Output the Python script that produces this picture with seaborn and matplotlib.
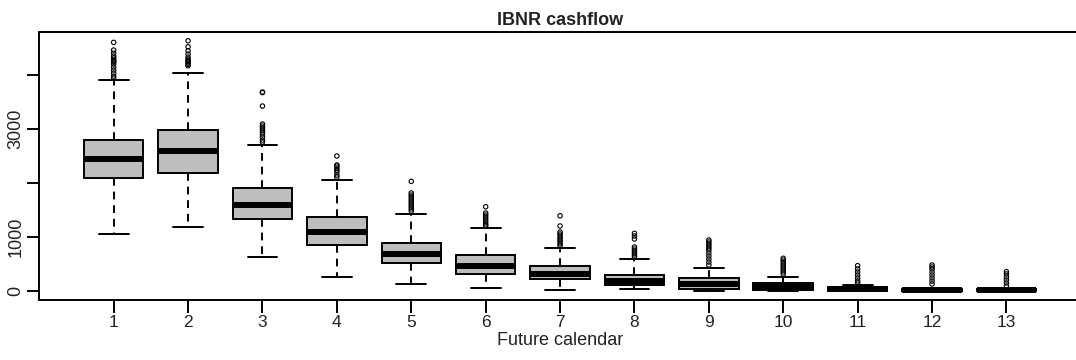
import numpy as np
import pandas as pd
import matplotlib
matplotlib.use("Agg")
import matplotlib.pyplot as plt
import seaborn as sns

# ---- data ----
periods = [1, 2, 3, 4, 5, 6, 7, 8, 9, 10, 11, 12, 13]
whisker_lo = [1061, 1191, 624, 259, 130, 62, 25, 31, 5, 0, 0, 0, 0]
q1 = [2087, 2191, 1327, 857, 524, 320, 216, 111, 40, 10, 5, 0, 0]
median = [2439, 2598, 1598, 1098, 691, 463, 321, 190, 130, 70, 30, 10, 10]
q3 = [2802, 2976, 1902, 1365, 895, 660, 469, 302, 240, 142, 68, 35, 35]
whisker_hi = [3907, 4037, 2698, 2061, 1432, 1167, 796, 598, 431, 265, 111, 60, 60]
outliers = [
    [4606, 4463, 4407, 4352, 4315, 4278, 4259, 4241, 4204, 4148, 4093, 4037, 3981, 3944],
    [4635, 4524, 4450, 4389, 4333, 4296, 4270, 4246, 4222, 4198, 4172],
    [3685, 3676, 3426, 3093, 3056, 3019, 2981, 2944, 2907, 2852, 2796, 2759],
    [2500, 2333, 2315, 2278, 2241, 2204, 2148, 2111],
    [2031, 1815, 1778, 1741, 1704, 1667, 1630, 1593, 1556, 1519, 1481],
    [1561, 1444, 1407, 1370, 1333, 1296, 1259, 1222, 1204],
    [1394, 1204, 1093, 1056, 1019, 981, 944, 907, 870, 833],
    [1068, 1019, 963, 815, 778, 741, 704, 667, 630],
    [944, 907, 870, 833, 796, 759, 704, 648, 593, 537, 481],
    [606, 574, 537, 500, 463, 426, 389, 352, 315],
    [469, 407, 352, 296, 241, 185, 148],
    [481, 444, 407, 352, 296, 241, 185, 130],
    [357, 315, 259, 204, 148, 93],
]
y_ticks = [0, 1000, 2000, 3000, 4000]
y_ticklabels = ["0", "1000", "", "3000", ""]
title = "IBNR cashflow"
xlabel = "Future calendar"

# ---- build the tables seaborn needs ----
rows = []
for p, lo, a, m, b, hi in zip(periods, whisker_lo, q1, median, q3, whisker_hi):
    for v in (lo, a, a, m, b, b, hi):
        rows.append((p, v))
box_df = pd.DataFrame(rows, columns=["period", "value"])
out_df = pd.DataFrame(
    [(p, v) for p, vals in zip(periods, outliers) for v in vals],
    columns=["period", "value"],
)

sns.set_style("ticks")
plt.rcParams["font.family"] = ["Liberation Sans", "DejaVu Sans"]

fig = plt.figure(figsize=(10.76, 3.6), dpi=100)
ax = fig.add_axes([0.0365, 0.1667, 0.968, 0.745])

sns.boxplot(
    data=box_df, x="period", y="value", native_scale=True, ax=ax,
    color="#BEBEBE", saturation=1, width=0.8, whis=(0, 100),
    showfliers=False, linecolor="black", linewidth=1.4,
    whiskerprops=dict(linestyle=(0, (4, 3)), linewidth=1.4),
    medianprops=dict(linewidth=4.3, color="black"),
    capprops=dict(linewidth=1.4),
)
sns.scatterplot(
    data=out_df, x="period", y="value", ax=ax, marker="o",
    facecolor="none", edgecolor="black", linewidth=0.8, s=10, legend=False,
)

ax.set_xlim(0, 14)
ax.set_ylim(-167, 4802)
ax.set_xticks(periods)
ax.set_xticklabels([str(p) for p in periods])
ax.set_yticks(y_ticks)
ax.set_yticklabels(y_ticklabels, rotation=90, va="center")
ax.tick_params(axis="both", length=9, width=1.4, color="black", labelcolor="#222222")
ax.tick_params(axis="x", labelsize=12.5, pad=2)
ax.tick_params(axis="y", labelsize=13, pad=1.5)
for name, s in ax.spines.items():
    s.set_linewidth(1.4)
    s.set_color("black")
    s.set_visible(True)
ax.set_xlabel(xlabel, fontsize=13, labelpad=1, color="#222222")
ax.set_ylabel("")
ax.set_title(title, fontsize=13, fontweight="bold", pad=5, color="#222222")
ax.grid(False)

fig.savefig("out.png", dpi=100)
